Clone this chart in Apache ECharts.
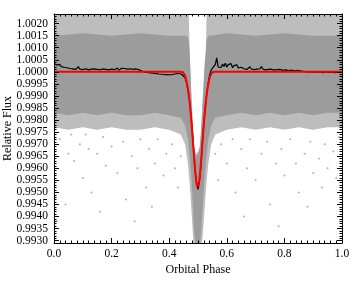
<!DOCTYPE html>
<html><head><meta charset="utf-8">
<script src="https://cdn.jsdelivr.net/npm/echarts@6/dist/echarts.min.js"></script>
<style>html,body{margin:0;padding:0;background:#fff}#c{width:360px;height:288px}</style>
</head><body><div id="c"></div>
<script>
// ---- axis tick labels ----
const xTicks = [0.0, 0.2, 0.4, 0.6, 0.8, 1.0];
const yTicks = [0.9930,0.9935,0.9940,0.9945,0.9950,0.9955,0.9960,0.9965,0.9970,0.9975,0.9980,0.9985,0.9990,0.9995,1.0000,1.0005,1.0010,1.0015,1.0020];
const yMin = 0.9929, yMax = 1.0024;

// ---- dense gray cloud envelopes ----
const topPhase = [0,0.10,0.20,0.30,0.40,0.455,0.462,0.468,0.471,0.474,0.478,0.482,0.486,0.490,0.494,0.500,0.506,0.510,0.513,0.516,0.520,0.524,0.527,0.530,0.536,0.545,0.60,0.70,0.80,0.90,1.0];
const outerTop = [1.0024,1.0024,1.0024,1.0024,1.0024,1.0024,1.0024,1.0024,1.0009,1.0000,0.9988,0.9978,0.9970,0.9967,0.9966,0.9967,0.9969,0.9975,0.9981,0.9988,0.9997,1.0005,1.0009,1.0024,1.0024,1.0024,1.0024,1.0024,1.0024,1.0024,1.0024];
const coreTop  = [1.0015,1.0016,1.0015,1.0016,1.0015,1.0015,1.0015,1.0013,1.0007,0.9998,0.9987,0.9977,0.9969,0.9966,0.9965,0.9966,0.9968,0.9974,0.9980,0.9987,0.9996,1.0004,1.0007,1.0013,1.0015,1.0015,1.0016,1.0015,1.0016,1.0015,1.0015];
const botPhase = [0,0.05,0.10,0.15,0.20,0.25,0.30,0.35,0.40,0.44,0.455,0.465,0.470,0.476,0.481,0.484,0.487,0.491,0.507,0.511,0.514,0.518,0.524,0.530,0.536,0.546,0.56,0.60,0.65,0.70,0.75,0.80,0.85,0.90,0.95,1.0];
const coreBot  = [0.9983,0.9982,0.9983,0.9982,0.9983,0.9982,0.9982,0.9983,0.9982,0.9981,0.9978,0.9972,0.9966,0.9958,0.9947,0.9940,0.9933,0.9929,0.9929,0.9933,0.9940,0.9947,0.9958,0.9966,0.9972,0.9978,0.9981,0.9982,0.9983,0.9982,0.9983,0.9982,0.9983,0.9982,0.9983,0.9983];
const outerBot = [0.9977,0.9976,0.9977,0.9976,0.9977,0.9976,0.9976,0.9977,0.9976,0.9974,0.9970,0.9962,0.9955,0.9945,0.9935,0.9929,0.9929,0.9929,0.9929,0.9929,0.9929,0.9935,0.9945,0.9955,0.9962,0.9970,0.9974,0.9976,0.9977,0.9976,0.9977,0.9976,0.9977,0.9976,0.9977,0.9977];

// ---- sparse outlying points ----
const sparsePhase = [0.01,0.02,0.04,0.05,0.06,0.07,0.09,0.10,0.11,0.12,0.13,0.15,0.16,0.17,0.18,0.20,0.22,0.24,0.25,0.27,0.28,0.29,0.30,0.32,0.33,0.34,0.35,0.36,0.38,0.39,0.41,0.42,0.43,0.44,
  0.56,0.57,0.58,0.60,0.62,0.63,0.65,0.66,0.67,0.68,0.70,0.72,0.74,0.75,0.77,0.78,0.79,0.80,0.82,0.84,0.85,0.87,0.88,0.89,0.90,0.92,0.93,0.94,0.95,0.97,0.98,0.99];
const sparseFlux  = [0.9938,0.9972,0.9945,0.9966,0.9974,0.9963,0.9970,0.9956,0.9974,0.9968,0.9950,0.9966,0.9942,0.9973,0.9961,0.9969,0.9958,0.9971,0.9947,0.9965,0.9938,0.9960,0.9972,0.9952,0.9968,0.9944,0.9962,0.9972,0.9957,0.9966,0.9970,0.9960,0.9952,0.9965,
  0.9966,0.9955,0.9970,0.9962,0.9972,0.9950,0.9968,0.9940,0.9960,0.9972,0.9955,0.9966,0.9971,0.9945,0.9962,0.9936,0.9968,0.9957,0.9972,0.9962,0.9950,0.9966,0.9944,0.9971,0.9958,0.9964,0.9952,0.9970,0.9960,0.9967,0.9956,0.9973];

// ---- binned light curve (black), phase step 0.005 ----
const binStep = 0.005;
const binFlux = [
 1.00035,1.00030,1.00028,1.00024,1.00031,1.00022,1.00026,1.00019,1.00024,1.00017,1.00021,
 1.00014,1.00020,1.00012,1.00018,1.00010,1.00016,1.00021,1.00011,1.00015,1.00009,1.00017,1.00013,1.00019,1.00008,1.00014,1.00011,1.00018,1.00012,1.00016,1.00010,
 1.00015,1.00009,1.00017,1.00012,1.00020,1.00010,1.00014,1.00008,1.00016,1.00011,1.00018,1.00009,1.00013,1.00016,1.00007,1.00012,1.00015,1.00009,1.00014,1.00006,1.00011,1.00008,1.00013,1.00005,1.00010,1.00007,1.00012,1.00004,1.00009,1.00006,
 1.00003,1.00008,0.99999,1.00004,0.99998,1.00002,0.99996,1.00001,0.99995,0.99999,0.99993,0.99998,0.99991,0.99996,0.99990,0.99995,0.99988,0.99994,0.99989,0.99996,0.99987,0.99993,0.99990,0.99985,0.99992,0.99988,0.99994,0.99986,
 0.99988,0.99985,0.99975,0.99955,0.99925,0.99885,0.99828,0.99755,0.99675,0.99590,0.99540,0.99512,0.99545,0.99605,0.99700,0.99780,0.99850,0.99905,0.99950,0.99985,1.00005,1.00015,1.00022,
 1.00030,1.00058,1.00020,1.00028,1.00018,1.00032,1.00022,1.00036,1.00019,1.00030,1.00024,1.00034,1.00017,1.00026,1.00020,1.00029,1.00016,1.00024,1.00019,
 1.00022,1.00013,1.00019,1.00010,1.00016,1.00021,1.00012,1.00017,1.00009,1.00015,1.00011,1.00019,1.00013,1.00022,1.00012,1.00016,1.00008,1.00014,1.00010,1.00018,
 1.00011,1.00015,1.00007,1.00013,1.00009,1.00016,1.00010,1.00014,1.00006,1.00012,1.00008,1.00013,1.00005,1.00010,1.00007,1.00012,1.00004,1.00009,1.00006,1.00010,
 1.00004,1.00008,1.00002,1.00006,1.00001,1.00005,0.99999,1.00004,1.00001,1.00006,0.99998,1.00003,1.00000,1.00005,0.99999,1.00002,0.99997,1.00003,1.00000,1.00004,
 0.99998,1.00002,0.99999,1.00003,0.99997,1.00001,0.99998,1.00002,0.99999,1.00000];

// ---- model (red) ----
const modelPhase = [0,0.440,0.448,0.455,0.460,0.465,0.470,0.475,0.480,0.485,0.490,0.494,0.497,0.499,0.501,0.504,0.508,0.513,0.518,0.523,0.528,0.533,0.538,0.543,0.550,0.558,1.0];
const modelFlux  = [1.0,1.0,0.99998,0.99985,0.99962,0.99930,0.99885,0.99825,0.99750,0.99668,0.99590,0.99545,0.99522,0.99515,0.99522,0.99545,0.99590,0.99668,0.99750,0.99825,0.99885,0.99930,0.99962,0.99985,0.99998,1.0,1.0];

// minor tick positions
const yMinor = [];
for (let k = 9930; k <= 10024; k++) yMinor.push(k / 10000);

const zip = (a, b) => a.map((v, i) => [v, b[i]]);
const font = 'Liberation Serif';

function bandSeries(top, bot, color) {
  return {
    type: 'custom', silent: true, animation: false,
    data: [[0.5, 1.0]], encode: {x: 0, y: 1},
    renderItem: function (params, api) {
      const pts = [];
      for (let i = 0; i < topPhase.length; i++) pts.push(api.coord([topPhase[i], top[i]]));
      for (let i = botPhase.length - 1; i >= 0; i--) pts.push(api.coord([botPhase[i], bot[i]]));
      return {type: 'polygon', shape: {points: pts}, style: {fill: color}};
    }
  };
}

const yBase = {type: 'value', min: yMin, max: yMax, splitLine: {show: false}, z: 10};
const chart = echarts.init(document.getElementById('c'), null, {renderer: 'canvas'});
chart.setOption({
  animation: false,
  grid: {left: 54, right: 18, top: 14, bottom: 45, containLabel: false, outerBoundsMode: 'none'},
  xAxis: [
    {type: 'value', min: 0, max: 1, interval: 0.2, position: 'bottom', z: 10,
     name: 'Orbital Phase', nameLocation: 'middle', nameGap: 21, nameMoveOverlap: false,
     nameTextStyle: {fontFamily: font, fontSize: 12, color: '#000'},
     axisLine: {show: true, lineStyle: {color: '#000', width: 1}},
     axisTick: {show: true, inside: true, length: 5, lineStyle: {color: '#000'}},
     minorTick: {show: true, splitNumber: 10, length: 2.5, lineStyle: {color: '#000'}},
     axisLabel: {fontFamily: font, fontSize: 11.5, color: '#000', margin: 5, formatter: v => v.toFixed(1)},
     splitLine: {show: false}},
    {type: 'value', min: 0, max: 1, interval: 0.2, position: 'top', z: 10,
     axisLine: {show: true, lineStyle: {color: '#000', width: 1}},
     axisTick: {show: true, inside: true, length: 5, lineStyle: {color: '#000'}},
     minorTick: {show: true, splitNumber: 10, length: 2.5, lineStyle: {color: '#000'}},
     axisLabel: {show: false}, splitLine: {show: false}}
  ],
  yAxis: [
    Object.assign({}, yBase, {position: 'left',
     name: 'Relative Flux', nameLocation: 'middle', nameGap: 40, nameRotate: 90, nameMoveOverlap: false,
     nameTextStyle: {fontFamily: font, fontSize: 12, color: '#000'},
     axisLine: {show: true, lineStyle: {color: '#000', width: 1}},
     axisTick: {show: true, inside: true, length: 5, customValues: yTicks, lineStyle: {color: '#000'}},
     axisLabel: {fontFamily: font, fontSize: 11.5, color: '#000', margin: 6, customValues: yTicks, formatter: v => v.toFixed(4)}}),
    Object.assign({}, yBase, {position: 'left',
     axisLine: {show: false},
     axisTick: {show: true, inside: true, length: 2.5, customValues: yMinor, lineStyle: {color: '#000'}},
     axisLabel: {show: false}}),
    Object.assign({}, yBase, {position: 'right',
     axisLine: {show: true, lineStyle: {color: '#000', width: 1}},
     axisTick: {show: true, inside: true, length: 5, customValues: yTicks, lineStyle: {color: '#000'}},
     axisLabel: {show: false}}),
    Object.assign({}, yBase, {position: 'right',
     axisLine: {show: false},
     axisTick: {show: true, inside: true, length: 2.5, customValues: yMinor, lineStyle: {color: '#000'}},
     axisLabel: {show: false}})
  ],
  series: [
    bandSeries(outerTop, outerBot, '#bdbdbd'),
    bandSeries(coreTop, coreBot, '#9c9c9c'),
    {type: 'scatter', data: zip(sparsePhase, sparseFlux), symbolSize: 2, itemStyle: {color: '#9c9c9c'}, silent: true},
    {type: 'line', data: binFlux.map((f, i) => [i * binStep, f]), showSymbol: false, symbol: 'none',
     lineStyle: {color: '#000', width: 1.2}, z: 3},
    {type: 'line', data: zip(modelPhase, modelFlux), showSymbol: false, symbol: 'none',
     lineStyle: {color: '#ff0000', width: 2}, z: 4}
  ]
});
</script>
</body></html>
